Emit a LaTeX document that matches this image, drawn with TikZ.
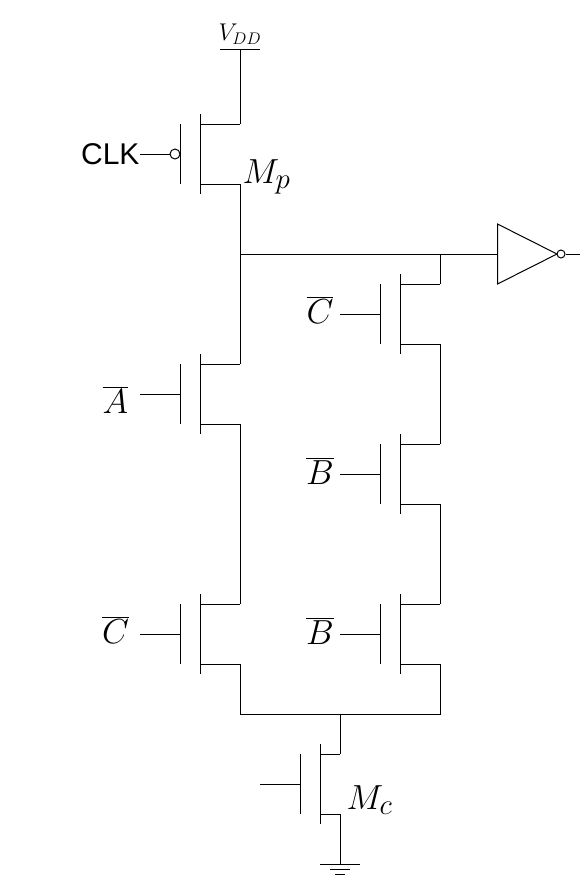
\documentclass[tikz,border=0pt]{standalone}
\usepackage{fontspec}
\setsansfont{Liberation Sans}
\usetikzlibrary{positioning}

\tikzset{
  wire/.style={line width=0.75pt},
  label/.style={inner sep=0pt, scale=1.05, font=\fontsize{24.88}{28}\selectfont},
  small label/.style={inner sep=0pt, scale=1.05, font=\fontsize{17.28}{20}\selectfont}
}

\begin{document}
\begin{tikzpicture}[x=0.75pt, y=-0.75pt, wire]

         \useasboundingbox (0,0) rectangle (581,876);

         % transistors: name / channel x / centre y / lead length
         \foreach \name/\x/\y/\lead in {mp/200/154/40, ma/200/394/40, mcl/200/634/40, mcr/400/314/40, mbu/400/474/40, mbl/400/634/40, mc/320/784/20} {
           \coordinate (\name-d) at (\x+\lead,\y-30);
           \coordinate (\name-s) at (\x+\lead,\y+30);
           \coordinate (\name-g) at (\x-20,\y);
           \coordinate (\name-in) at (\x-60,\y);
           \draw (\x,\y-40) -- (\x,\y+40);
           \draw (\x-20,\y-30) -- (\x-20,\y+30);
           \draw (\x,\y-30) -- (\name-d);
           \draw (\x,\y+30) -- (\name-s);
         }

         % gate leads
         \draw (ma-in) -- (ma-g);
         \draw (mcl-in) -- (mcl-g);
         \draw (mcr-in) -- (mcr-g);
         \draw (mbu-in) -- (mbu-g);
         \draw (mbl-in) -- (mbl-g);
         \draw (mc-in) -- (mc-g);

         % clock input with bubble
         \node [circle, draw, inner sep=0pt, minimum size=7.5pt] (bubble) at (175,154) {};
         \node [inner sep=0pt, anchor=east, font=\sffamily\fontsize{22.5}{26}\selectfont] (clk) at (140,154) {CLK};
         \draw (clk) -- (bubble);

         % supply
         \coordinate (vdd) at (240,49);
         \draw (220,49) -- (260,49);
         \node [small label, above=3pt of vdd] (vddlabel) {$V_{DD}$};
         \draw (vdd) -- (mp-d);

         % output and inverter
         \coordinate (out) at (240,254);
         \coordinate (tap) at (440,254);
         \coordinate (invin) at (497.5,254);
         \coordinate (invout) at (580,254);
         \draw (mp-s) -- (ma-d);
         \draw (out) -- (invin);
         \draw (tap) -- (mcr-d);
         \draw (497.5,224) -- (497.5,284) -- (557,254) -- cycle;
         \node [circle, draw, fill=white, inner sep=0pt, minimum size=6pt] (invbubble) at (561,254) {};
         \draw (invbubble) -- (invout);

         % stacks
         \draw (ma-s) -- (mcl-d);
         \draw (mcr-s) -- (mbu-d);
         \draw (mbu-s) -- (mbl-d);
         \draw (mcl-s) -- (240,714) -- (440,714) -- (mbl-s);
         \draw (340,714) -- (mc-d);

         % ground
         \coordinate (gnd) at (340,864);
         \draw (mc-s) -- (gnd);
         \draw (320,864) -- (360,864);
         \draw (330,869) -- (350,869);
         \draw (335,874) -- (345,874);

         % labels
         \node [label, anchor=base west] (mplabel) at (242,183) {$M_p$};
         \node [label, anchor=base west] (mclabel) at (346,809) {$M_c$};
         \node [label, anchor=base] (alabel) at (115.5,413) {$\overline{A}$};
         \node [label, anchor=base] (cllabel) at (115.5,643.5) {$\overline{C}$};
         \node [label, anchor=base] (crlabel) at (320,323.5) {$\overline{C}$};
         \node [label, anchor=base] (bulabel) at (320,484) {$\overline{B}$};
         \node [label, anchor=base] (bllabel) at (320,644) {$\overline{B}$};

\end{tikzpicture}
\end{document}
